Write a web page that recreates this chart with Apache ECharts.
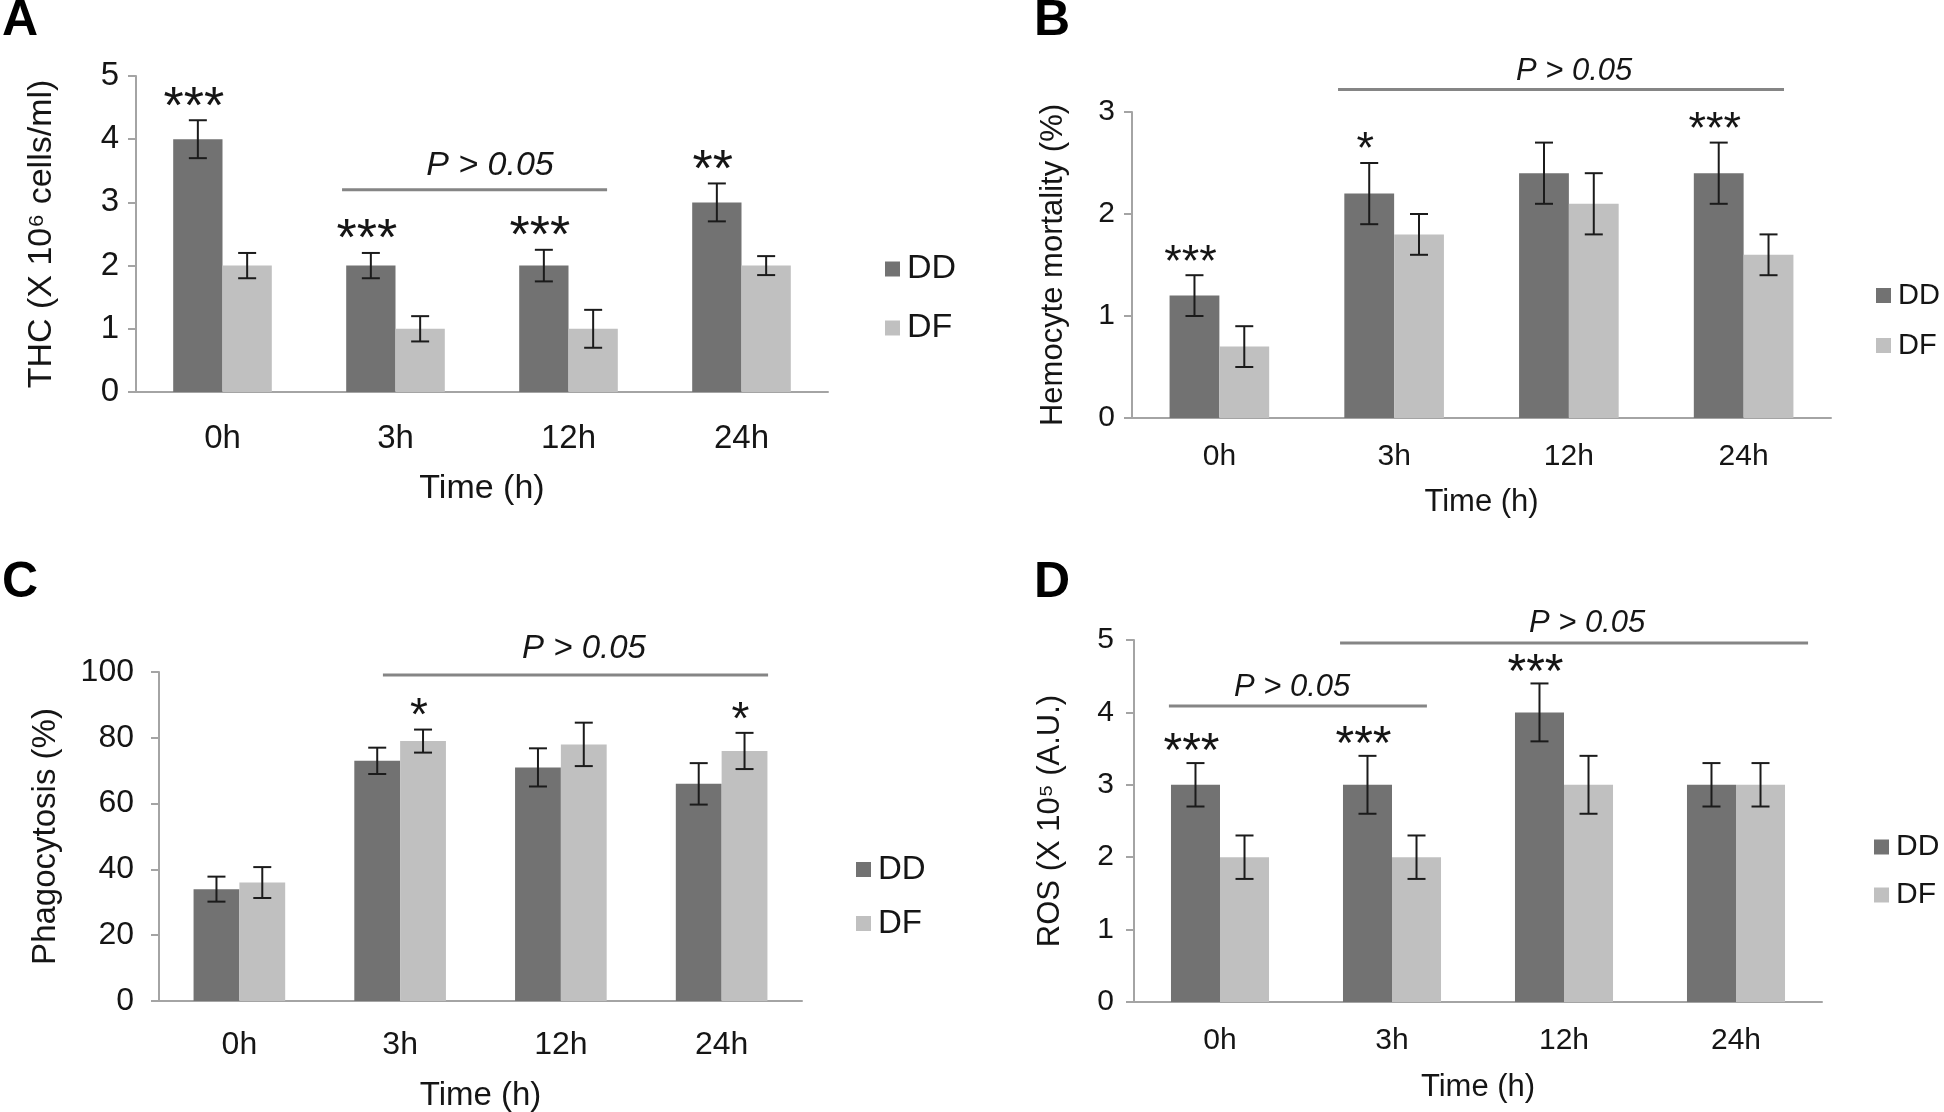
<!DOCTYPE html>
<html>
<head>
<meta charset="utf-8">
<script src="https://cdn.jsdelivr.net/npm/echarts@6.0.0/dist/echarts.min.js"></script>
<style>
  html, body { margin: 0; padding: 0; background: #fff; }
  #chart { width: 1944px; height: 1112px; }
</style>
</head>
<body>
<div id="chart"></div>
<script>
// 时间点
var categories = ['0h', '3h', '12h', '24h'];
var seriesNames = ['DD', 'DF'];

// A: THC
var thcDD = [4, 2, 2, 3];
var thcDDErr = [0.3, 0.2, 0.25, 0.3];
var thcDF = [2, 1, 1, 2];
var thcDFErr = [0.2, 0.2, 0.3, 0.15];
var thcStarsDD = ['***', '***', '***', '**'];

// B: hemocyte mortality
var mortDD = [1.2, 2.2, 2.4, 2.4];
var mortDDErr = [0.2, 0.3, 0.3, 0.3];
var mortDF = [0.7, 1.8, 2.1, 1.6];
var mortDFErr = [0.2, 0.2, 0.3, 0.2];
var mortStarsDD = ['***', '*', '', '***'];

// C: phagocytosis
var phagoDD = [34, 73, 71, 66];
var phagoDDErr = [3.8, 4, 5.8, 6.3];
var phagoDF = [36, 79, 78, 76];
var phagoDFErr = [4.7, 3.5, 6.6, 5.5];
var phagoStarsDF = ['', '*', '', '*'];

// D: ROS
var rosDD = [3, 3, 4, 3];
var rosDDErr = [0.3, 0.4, 0.4, 0.3];
var rosDF = [2, 2, 3, 3];
var rosDFErr = [0.3, 0.3, 0.4, 0.3];
var rosStarsDD = ['***', '***', '***', ''];

var nsText = 'P > 0.05';

var FONT = "'Liberation Sans', Arial, Helvetica, sans-serif";
var DD_COLOR = '#727272';
var DF_COLOR = '#c0c0c0';
var AXIS_COLOR = '#a4a4a4';
var TEXT_COLOR = '#151515';

// 面板布局 (注释线: [起点, 终点, 线的值, 文字位置, 文字值], 位置按类目宽度计)
var panels = [
    {
        letter: 'A', letterPos: [2, -4],
        grid: { left: 136, top: 76, width: 692, height: 316 },
        max: 5, interval: 1, fs: 33, labelMargin: 17, xLabelMargin: 30,
        yName: 'THC (X 10⁶ cells/ml)', yNameGap: 77, xNameGap: 80,
        dd: thcDD, ddErr: thcDDErr, df: thcDF, dfErr: thcDFErr,
        starsDD: thcStarsDD, starsDF: null, starSize: 52, starGap: 12,
        brackets: [[0.691, 2.223, 3.2, 1.546, 3.58]],
        legend: { left: 885, top: 252, fs: 34, gap: 25 }
    },
    {
        letter: 'B', letterPos: [1034, -4],
        grid: { left: 1132, top: 112, width: 699, height: 306 },
        max: 3, interval: 1, fs: 30, labelMargin: 17, xLabelMargin: 24,
        yName: 'Hemocyte mortality (%)', yNameGap: 63, xNameGap: 69,
        dd: mortDD, ddErr: mortDDErr, df: mortDF, dfErr: mortDFErr,
        starsDD: mortStarsDD, starsDF: null, starSize: 45, starGap: 12,
        brackets: [[0.679, 3.231, 3.22, 2.03, 3.40]],
        legend: { left: 1876, top: 281, fs: 29, gap: 21 }
    },
    {
        letter: 'C', letterPos: [2, 558],
        grid: { left: 159, top: 672, width: 643, height: 329 },
        max: 100, interval: 20, fs: 32, labelMargin: 25, xLabelMargin: 28,
        yName: 'Phagocytosis (%)', yNameGap: 97, xNameGap: 78,
        dd: phagoDD, ddErr: phagoDDErr, df: phagoDF, dfErr: phagoDFErr,
        starsDD: null, starsDF: phagoStarsDF, starSize: 46, starGap: 12,
        brackets: [[0.893, 3.289, 99.1, 2.144, 107]],
        legend: { left: 856, top: 853, fs: 33, gap: 21 }
    },
    {
        letter: 'D', letterPos: [1034, 558],
        grid: { left: 1134, top: 640, width: 688, height: 362 },
        max: 5, interval: 1, fs: 30, labelMargin: 20, xLabelMargin: 24,
        yName: 'ROS (X 10⁵ (A.U.)', yNameGap: 68, xNameGap: 70,
        dd: rosDD, ddErr: rosDDErr, df: rosDF, dfErr: rosDFErr,
        starsDD: rosStarsDD, starsDF: null, starSize: 48, starGap: 10,
        brackets: [[-0.297, 1.203, 4.09, 0.419, 4.34], [0.698, 3.419, 4.96, 2.134, 5.23]],
        legend: { left: 1874, top: 832, fs: 30, gap: 18 }
    }
];

var GAP = 0.43; // barCategoryGap
var HALF = (1 - GAP) / 4; // 柱中心相对类目中心的偏移

// 误差线 + 星号
function errRender(side, stars, starSize, starGap) {
    return function (params, api) {
        var i = api.value(0), v = api.value(1), e = api.value(2);
        var band = api.size([1, 0])[0];
        var x = api.coord([i, 0])[0] + side * band * HALF;
        var top = api.coord([i, v + e])[1];
        var bot = api.coord([i, v - e])[1];
        var cap = 9;
        var st = { stroke: '#1b1b1b', lineWidth: 2 };
        var children = [
            { type: 'line', shape: { x1: x, y1: top, x2: x, y2: bot }, style: st },
            { type: 'line', shape: { x1: x - cap, y1: top, x2: x + cap, y2: top }, style: st },
            { type: 'line', shape: { x1: x - cap, y1: bot, x2: x + cap, y2: bot }, style: st }
        ];
        var s = stars ? stars[params.dataIndex] : '';
        if (s) {
            children.push({
                type: 'text', x: x - 4, y: top - starGap,
                style: {
                    text: s, fill: TEXT_COLOR, align: 'center', verticalAlign: 'middle',
                    font: starSize + 'px ' + FONT
                }
            });
        }
        return { type: 'group', children: children };
    };
}

// P > 0.05 注释线
function bracketRender(brackets, fs) {
    return function (params, api) {
        var b = brackets[params.dataIndex];
        var band = api.size([1, 0])[0];
        var x0 = api.coord([0, b[2]])[0];
        var ly = api.coord([0, b[2]])[1];
        var ty = api.coord([0, b[4]])[1];
        return {
            type: 'group',
            children: [
                {
                    type: 'line',
                    shape: { x1: x0 + b[0] * band, y1: ly, x2: x0 + b[1] * band, y2: ly },
                    style: { stroke: '#858585', lineWidth: 3 }
                },
                {
                    type: 'text', x: x0 + b[3] * band, y: ty,
                    style: {
                        text: nsText, fill: TEXT_COLOR, align: 'center', verticalAlign: 'middle',
                        font: 'italic ' + fs + 'px ' + FONT
                    }
                }
            ]
        };
    };
}

var option = {
    animation: false,
    backgroundColor: '#fff',
    title: [], grid: [], xAxis: [], yAxis: [], legend: [], series: []
};

panels.forEach(function (p, k) {
    option.title.push({
        text: p.letter, left: p.letterPos[0], top: p.letterPos[1], padding: 0,
        textStyle: { fontSize: 50, fontWeight: 'bold', color: '#000', fontFamily: FONT }
    });
    option.grid.push(Object.assign({ containLabel: false, outerBoundsMode: 'none' }, p.grid));
    option.xAxis.push({
        type: 'category', gridIndex: k, data: categories,
        name: 'Time (h)', nameLocation: 'middle', nameGap: p.xNameGap,
        nameTextStyle: { fontSize: p.fs + 1, color: TEXT_COLOR, fontFamily: FONT },
        axisLine: { lineStyle: { color: AXIS_COLOR, width: 2 } },
        axisTick: { length: 8, lineStyle: { color: AXIS_COLOR, width: 2 } },
        axisLabel: { fontSize: p.fs, color: TEXT_COLOR, fontFamily: FONT, margin: p.xLabelMargin },
        splitLine: { show: false }
    });
    option.yAxis.push({
        type: 'value', gridIndex: k, min: 0, max: p.max, interval: p.interval,
        name: p.yName, nameLocation: 'middle', nameRotate: 90, nameGap: p.yNameGap,
        nameTextStyle: { fontSize: p.fs + 1, color: TEXT_COLOR, fontFamily: FONT },
        axisLine: { show: true, lineStyle: { color: AXIS_COLOR, width: 2 } },
        axisTick: { show: true, length: 8, lineStyle: { color: AXIS_COLOR, width: 2 } },
        axisLabel: { fontSize: p.fs, color: TEXT_COLOR, fontFamily: FONT, margin: p.labelMargin },
        splitLine: { show: false }
    });
    option.legend.push({
        orient: 'vertical', left: p.legend.left, top: p.legend.top, padding: 0,
        data: seriesNames, icon: 'rect', itemWidth: 15, itemHeight: 15,
        itemGap: p.legend.gap, selectedMode: false,
        textStyle: {
            fontSize: p.legend.fs, lineHeight: p.legend.fs, color: TEXT_COLOR,
            fontFamily: FONT, padding: [0, 0, 0, 2]
        }
    });
    option.series.push(
        {
            name: 'DD', type: 'bar', xAxisIndex: k, yAxisIndex: k, data: p.dd,
            barGap: '0%', barCategoryGap: (GAP * 100) + '%', itemStyle: { color: DD_COLOR }
        },
        {
            name: 'DF', type: 'bar', xAxisIndex: k, yAxisIndex: k, data: p.df,
            barGap: '0%', barCategoryGap: (GAP * 100) + '%', itemStyle: { color: DF_COLOR }
        },
        {
            type: 'custom', xAxisIndex: k, yAxisIndex: k, z: 5,
            data: p.dd.map(function (v, i) { return [i, v, p.ddErr[i]]; }),
            renderItem: errRender(-1, p.starsDD, p.starSize, p.starGap)
        },
        {
            type: 'custom', xAxisIndex: k, yAxisIndex: k, z: 5,
            data: p.df.map(function (v, i) { return [i, v, p.dfErr[i]]; }),
            renderItem: errRender(1, p.starsDF, p.starSize, p.starGap)
        },
        {
            type: 'custom', xAxisIndex: k, yAxisIndex: k, z: 5,
            data: p.brackets.map(function (b) { return [0, b[2]]; }),
            renderItem: bracketRender(p.brackets, p.fs + 1)
        }
    );
});

var myChart = echarts.init(document.getElementById('chart'));
myChart.setOption(option);
window.addEventListener('resize', function () {
    myChart.resize();
});
</script>
</body>
</html>
